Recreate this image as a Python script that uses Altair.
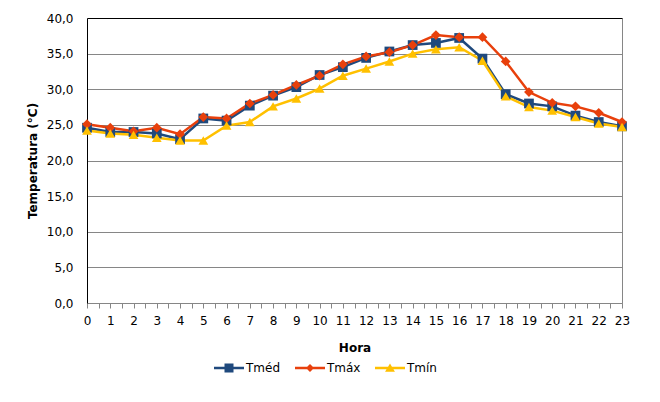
import altair as alt
import pandas as pd

hours = list(range(24))
tmed = [24.6, 24.0, 24.0, 23.8, 23.0, 25.9, 25.6, 27.7, 29.1, 30.3, 32.0, 33.1,
        34.4, 35.3, 36.2, 36.5, 37.2, 34.3, 29.3, 28.0, 27.6, 26.3, 25.4, 24.8]
tmax = [25.1, 24.6, 24.1, 24.6, 23.7, 26.1, 25.9, 28.0, 29.2, 30.6, 31.9, 33.5,
        34.6, 35.2, 36.2, 37.6, 37.3, 37.3, 33.9, 29.6, 28.1, 27.6, 26.7, 25.4]
tmin = [24.2, 23.8, 23.6, 23.2, 22.8, 22.8, 24.9, 25.4, 27.6, 28.7, 30.1, 31.9,
        32.9, 33.9, 35.0, 35.6, 35.9, 34.0, 29.0, 27.5, 27.0, 26.1, 25.2, 24.7]

series = ["Tméd", "Tmáx", "Tmín"]
colors = ["#1F497D", "#E8400C", "#FFC000"]
shapes = ["square", "diamond", "triangle-up"]
legend_shapes = [
    "M-1,-0.08H1V0.08H-1Z M-0.3,-0.3H0.3V0.3H-0.3Z",
    "M-1,-0.08H1V0.08H-1Z M0,-0.27L0.27,0L0,0.27L-0.27,0Z",
    "M-1,-0.08H1V0.08H-1Z M0,-0.3L0.33,0.25H-0.33Z",
]

rows = []
for name, vals in zip(series, [tmed, tmax, tmin]):
    for h, v in zip(hours, vals):
        rows.append({"Hora": h, "Temp": v, "Serie": name})
df = pd.DataFrame(rows)

FONT = "DejaVu Sans"

x_enc = alt.X(
    "Hora:Q",
    title="Hora",
    scale=alt.Scale(domain=[0, 23], nice=False, zero=False),
    axis=alt.Axis(
        values=[i / 2 for i in range(47)],
        labelExpr="datum.value % 1 == 0 ? format(datum.value, 'd') : ''",
        grid=True,
        gridColor="#868686",
        gridOpacity=alt.condition("datum.value == 23", alt.value(1), alt.value(0)),
        domainColor="#868686",
        tickColor="#868686",
        tickSize=5,
        labelPadding=7,
        labelFont=FONT,
        labelFontSize=12,
        labelColor="#000000",
        titleFont=FONT,
        titleFontSize=12,
        titleFontWeight="bold",
        titleColor="#000000",
        titlePadding=16,
        labelFlush=False,
    ),
)
y_enc = alt.Y(
    "Temp:Q",
    title="Temperatura (°C)",
    scale=alt.Scale(domain=[0, 40], nice=False),
    axis=alt.Axis(
        values=list(range(0, 41, 5)),
        labelExpr="replace(format(datum.value, '.1f'), '.', ',')",
        grid=True,
        gridColor=alt.condition("datum.value == 40", alt.value("#000000"), alt.value("#868686")),
        domainColor="#000000",
        ticks=False,
        labelPadding=14,
        labelFont=FONT,
        labelFontSize=12,
        labelColor="#000000",
        titleFont=FONT,
        titleFontSize=12,
        titleFontWeight="bold",
        titleColor="#000000",
        titlePadding=7,
    ),
)

color_nolegend = alt.Color("Serie:N", scale=alt.Scale(domain=series, range=colors), legend=None)

base = alt.Chart(df)

lines = base.mark_line(strokeWidth=2.5).encode(
    x=x_enc, y=y_enc, color=color_nolegend,
    order=alt.Order("Hora:Q"),
)

points = base.mark_point(filled=True, opacity=1, size=95).encode(
    x=x_enc, y=y_enc, color=color_nolegend,
    shape=alt.Shape("Serie:N", scale=alt.Scale(domain=series, range=shapes), legend=None),
)

leg = alt.Legend(
    orient="none", legendX=127, legendY=335, direction="horizontal", title=None,
    symbolSize=900, labelFont=FONT, labelFontSize=12, labelColor="#000000",
    labelOffset=2, columnPadding=14, padding=0, symbolStrokeWidth=0,
)

dummy = base.transform_filter("datum.Hora < 0").mark_point(filled=True, opacity=1).encode(
    x=x_enc, y=y_enc,
    color=alt.Color("Serie:N", scale=alt.Scale(domain=series, range=colors), legend=leg),
    shape=alt.Shape("Serie:N", scale=alt.Scale(domain=series, range=legend_shapes), legend=leg),
)

chart = alt.layer(lines, points, dummy).resolve_scale(
    color="independent", shape="independent"
).properties(
    width=535, height=285,
    autosize=alt.AutoSizeParams(type="none"),
    padding={"left": 79, "top": 10, "right": 30, "bottom": 90},
    background="#FFFFFF",
).configure_view(stroke=None)

chart.save("out.html", embed_options={"renderer": "svg", "actions": False})
